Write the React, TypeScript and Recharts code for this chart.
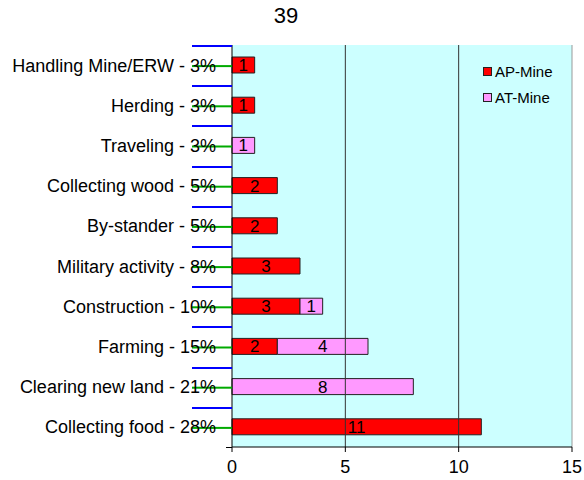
import React from 'react';
import {
  BarChart,
  Bar,
  XAxis,
  YAxis,
  CartesianGrid,
  ReferenceLine,
  LabelList,
  Legend,
} from 'recharts';

const categories = [
  'Handling Mine/ERW - 3%',
  'Herding - 3%',
  'Traveling - 3%',
  'Collecting wood - 5%',
  'By-stander - 5%',
  'Military activity - 8%',
  'Construction - 10%',
  'Farming - 15%',
  'Clearing new land - 21%',
  'Collecting food - 28%',
];
const apMine: (number | null)[] = [1, 1, null, 2, 2, 3, 3, 2, null, 11];
const atMine: (number | null)[] = [null, null, 1, null, null, null, 1, 4, 8, null];
const xTicks = [0, 5, 10, 15];
const title = '39';
const seriesNames = ['AP-Mine', 'AT-Mine'];
const seriesColors = ['#FF0000', '#FF99FF'];

const data = categories.map((name, i) => ({ name, ap: apMine[i], at: atMine[i] }));

const FONT = '"Liberation Sans", Arial, sans-serif';

const Y_TICK_SIZE = 6;
const Y_TICK_MARGIN = 2;

const CategoryTick = (props: any) => {
  const { x, y, payload, index } = props;
  const off = payload && payload.offset ? payload.offset : 0;
  const axisX = x + Y_TICK_SIZE + Y_TICK_MARGIN;
  const yTop = Math.round(y - off);
  const yBot = Math.round(y + off);
  return (
    <g>
      <rect x={axisX - 40} y={yTop} width={40} height={2} fill="#0000FF" />
      <rect x={axisX - 40} y={y} width={40} height={2} fill="#00AA00" />
      {index === categories.length - 1 ? (
        <rect x={axisX - 6} y={yBot} width={6} height={1} fill="#000" />
      ) : null}
      <text
        x={axisX - 16}
        y={y}
        dy="0.36em"
        textAnchor="end"
        fill="#000"
        fontSize={18}
        fontFamily={FONT}
      >
        {payload.value}
      </text>
    </g>
  );
};

const LegendContent = () => (
  <div style={{ fontFamily: FONT, fontSize: 15, color: '#000' }}>
    {seriesNames.map((n, i) => (
      <div
        key={n}
        style={{ display: 'flex', alignItems: 'center', height: 25.5, lineHeight: '25.5px' }}
      >
        <span
          style={{
            display: 'inline-block',
            width: 7,
            height: 7,
            background: seriesColors[i],
            border: '1px solid #222',
            marginRight: 3,
          }}
        />
        <span>{n}</span>
      </div>
    ))}
  </div>
);

const labelFmt = (v: any) => (v ? v : '');

export default function App() {
  return (
    <div style={{ position: 'absolute', left: 0, top: 0, width: 584, height: 480, background: '#fff' }}>
      <div
        style={{
          position: 'absolute',
          left: 236,
          width: 100,
          top: 3,
          textAlign: 'center',
          fontFamily: FONT,
          fontSize: 22,
          color: '#000',
        }}
      >
        {title}
      </div>
      <BarChart
        width={584}
        height={480}
        data={data}
        layout="vertical"
        barSize={16}
        margin={{ top: 45, right: 12, left: 0, bottom: 8 }}
      >
        <CartesianGrid horizontal={false} vertical={false} fill="#CCFFFF" />
        <XAxis
          type="number"
          domain={[0, 15]}
          ticks={xTicks}
          interval={0}
          height={25}
          tickSize={5}
          tickMargin={8}
          axisLine={{ stroke: '#000' }}
          tickLine={{ stroke: '#000' }}
          tick={{ fill: '#000', fontSize: 18, fontFamily: FONT }}
        />
        <XAxis
          xAxisId="top"
          orientation="top"
          type="number"
          domain={[0, 15]}
          height={0}
          tick={false}
          tickLine={false}
          axisLine={{ stroke: '#999' }}
        />
        <YAxis
          type="category"
          dataKey="name"
          width={232}
          interval={0}
          tickLine={false}
          tickSize={Y_TICK_SIZE}
          tickMargin={Y_TICK_MARGIN}
          axisLine={{ stroke: '#000' }}
          tick={<CategoryTick />}
        />
        <ReferenceLine x={5} stroke="#333" />
        <ReferenceLine x={10} stroke="#333" />
        <ReferenceLine x={15} stroke="#999" />
        <Legend
          layout="vertical"
          verticalAlign="middle"
          align="center"
          wrapperStyle={{ position: 'absolute', left: 483, top: 59, width: 90, height: 52 }}
          content={<LegendContent />}
        />
        <Bar dataKey="ap" name={seriesNames[0]} stackId="s" fill={seriesColors[0]} stroke="#222" isAnimationActive={false}>
          <LabelList dataKey="ap" position="center" formatter={labelFmt} fill="#000" fontSize={17} fontFamily={FONT} />
        </Bar>
        <Bar dataKey="at" name={seriesNames[1]} stackId="s" fill={seriesColors[1]} stroke="#222" isAnimationActive={false}>
          <LabelList dataKey="at" position="center" formatter={labelFmt} fill="#000" fontSize={17} fontFamily={FONT} />
        </Bar>
      </BarChart>
    </div>
  );
}
